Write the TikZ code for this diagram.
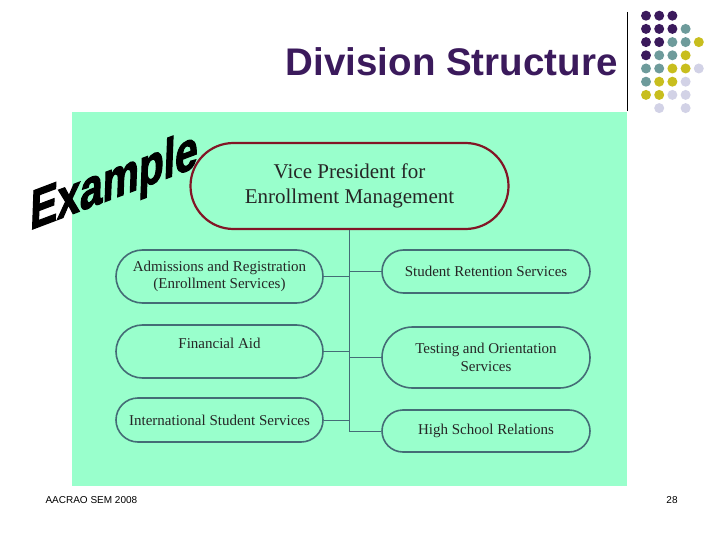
\documentclass[tikz,border=0pt]{standalone}
\usepackage{fontspec}
\setmainfont{Liberation Serif}
\setsansfont{Liberation Sans}
\usepackage{xcolor}
\usetikzlibrary{positioning, calc, shapes.misc}

\definecolor{titlepurple}{RGB}{59,26,92}
\definecolor{dotteal}{RGB}{110,155,155}
\definecolor{dotyellow}{RGB}{200,190,30}
\definecolor{dotlav}{RGB}{210,210,230}
\definecolor{mint}{RGB}{153,255,204}
\definecolor{vpred}{RGB}{130,22,38}
\definecolor{unitline}{RGB}{68,108,118}

\tikzset{
  unit/.style={rounded rectangle, draw=unitline, line width=1.6pt, align=center,
    font=\fontsize{15}{17.5}\selectfont, text=black!85, inner sep=4pt},
  link/.style={draw=unitline, line width=0.9pt}
}

\begin{document}
\begin{tikzpicture}[x=1pt, y=-1pt]
\useasboundingbox (0,0) rectangle (720,540);

% Title and decoration
\node[font=\sffamily\bfseries\fontsize{38.5}{42}\selectfont, text=titlepurple, anchor=east] (title) at (621,62) {Division Structure};
\draw[line width=0.8pt] (627,12) -- (627,111);
\foreach \c/\r/\col in {1/1/titlepurple,2/1/titlepurple,3/1/titlepurple,
    1/2/titlepurple,2/2/titlepurple,3/2/titlepurple,4/2/dotteal,
    1/3/titlepurple,2/3/titlepurple,3/3/dotteal,4/3/dotteal,5/3/dotyellow,
    1/4/titlepurple,2/4/dotteal,3/4/dotteal,4/4/dotyellow,
    1/5/dotteal,2/5/dotteal,3/5/dotyellow,4/5/dotyellow,5/5/dotlav,
    1/6/dotteal,2/6/dotyellow,3/6/dotyellow,4/6/dotlav,
    1/7/dotyellow,2/7/dotyellow,3/7/dotlav,4/7/dotlav,
    2/8/dotlav,4/8/dotlav}
  \fill[\col] ({646+13.2*(\c-1)},{15.7+13.2*(\r-1)}) circle (5pt);

% Green panel
\fill[mint] (72,112) rectangle (627,486);

% Stamp
\node[font=\sffamily\bfseries\fontsize{55}{55}\selectfont, xscale=0.74, yslant=0.28, xslant=0.05] (stamp) at (114,184) {\addfontfeature{FakeBold=2.5}Example};

% Units
\node[unit, draw=vpred, line width=2.2pt, minimum width=326pt, minimum height=86pt,
  font=\fontsize{21}{25}\selectfont] (vp) at (349.5,186) {Vice President for\\Enrollment Management};

\node[unit, minimum width=215pt, minimum height=53pt] (adm) at (219.5,276.5) {Admissions and Registration\\(Enrollment Services)};
\node[unit, minimum width=215pt, minimum height=53pt, text depth=16pt] (fin) at (219.5,351.5) {Financial Aid};
\node[unit, minimum width=215pt, minimum height=44pt] (intl) at (219.5,420) {International Student Services};

\node[unit, minimum width=216pt, minimum height=43pt] (ret) at (486,271.5) {Student Retention Services};
\node[unit, minimum width=216pt, minimum height=61pt] (test) at (486,357.5) {Testing and Orientation\\Services};
\node[unit, minimum width=216pt, minimum height=42pt] (hs) at (486,431) {High School Relations};

% Connectors
\draw[link] (vp.south) -- (vp.south |- hs.west) -- (hs.west);
\draw[link] (adm.east) -- (adm.east -| vp.south);
\draw[link] (fin.east) -- (fin.east -| vp.south);
\draw[link] (intl.east) -- (intl.east -| vp.south);
\draw[link] (ret.west) -- (ret.west -| vp.south);
\draw[link] (test.west) -- (test.west -| vp.south);

% Footer
\node[font=\sffamily\fontsize{10}{12}\selectfont, anchor=west] (foot) at (42,500) {AACRAO SEM 2008};
\node[font=\sffamily\fontsize{10}{12}\selectfont] (page) at (672,500) {28};
\end{tikzpicture}
\end{document}
